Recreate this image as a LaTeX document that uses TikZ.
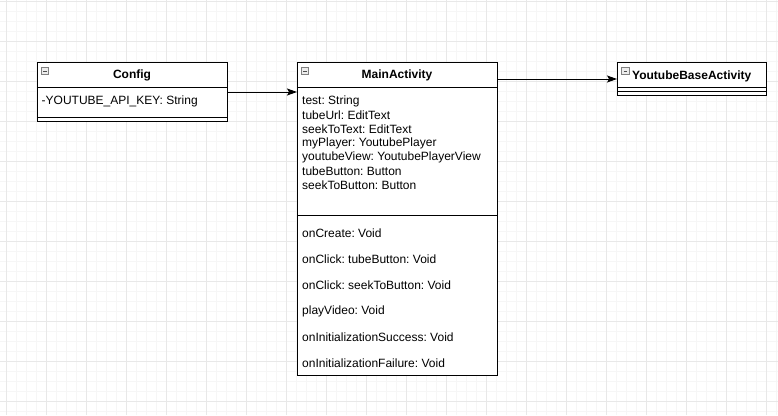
\documentclass[tikz,border=0pt]{standalone}
\usepackage{fontspec}
\setmainfont{Liberation Sans}
\usetikzlibrary{positioning}
\usetikzlibrary{arrows.meta}
\frenchspacing

\definecolor{gridminor}{HTML}{F6F6F6}
\definecolor{gridmajor}{HTML}{E8E8E8}

\tikzset{
  minorline/.style={draw=gridminor, line width=0.7pt},
  majorline/.style={draw=gridmajor, line width=0.7pt},
  classbox/.style={draw, line width=1pt, fill=white, inner sep=0pt, anchor=north west},
  divider/.style={line width=1pt},
  classname/.style={font=\bfseries\fontsize{12}{14}\selectfont, inner sep=0pt},
  member/.style={font=\fontsize{12}{14}\selectfont, inner sep=0pt, anchor=west},
  collapse/.style={draw=gray, fill=gray!15, minimum size=7.5pt, inner sep=0pt, line width=0.6pt,
    path picture={\draw[line width=0.9pt, black!70]
      ([xshift=1.8pt]path picture bounding box.west) -- ([xshift=-1.8pt]path picture bounding box.east);}},
  assoc/.style={-{Stealth[length=10pt,width=7pt,inset=2pt]}, line width=1pt},
}

\begin{document}
\begin{tikzpicture}[x=1pt,y=-1pt]
  \useasboundingbox (0,0) rectangle (778,415);
  % background grid
  \fill[white] (0,0) rectangle (778,415);
  \foreach \x in {6.7,16.7,...,778} \draw[minorline] (\x,0) -- (\x,415);
  \foreach \y in {1.7,11.7,...,415} \draw[minorline] (0,\y) -- (778,\y);
  \foreach \x in {6.7,46.7,...,778} \draw[majorline] (\x,0) -- (\x,415);
  \foreach \y in {1.7,41.7,...,415} \draw[majorline] (0,\y) -- (778,\y);

  % Config
  \node[classbox, minimum width=190pt, minimum height=59pt] (config) at (37,62) {};
  \draw[divider] (37,87) -- (227,87);
  \draw[divider] (37,117) -- (227,117);
  \node[collapse] (configicon) at (45,71) {};
  \node[classname] (configname) at (132,75.5) {Config};
  \node[member] (configkey) at (41.5,101.5) {-YOUTUBE\_API\_KEY: String};

  % MainActivity
  \node[classbox, minimum width=200pt, minimum height=313pt] (main) at (297,62) {};
  \draw[divider] (297,87) -- (497,87);
  \draw[divider] (297,215) -- (497,215);
  \node[collapse] (mainicon) at (305,71) {};
  \node[classname] (mainname) at (397,75.5) {MainActivity};
  \foreach \txt [count=\i from 0] in {test: String, tubeUrl: EditText, seekToText: EditText,
      myPlayer: YoutubePlayer, youtubeView: YoutubePlayerView, tubeButton: Button,
      seekToButton: Button}
    \node[member] (mainattr\i) at (302,101+14*\i) {\txt};
  \foreach \txt [count=\i from 0] in {onCreate: Void, onClick: tubeButton: Void,
      onClick: seekToButton: Void, playVideo: Void, onInitializationSuccess: Void,
      onInitializationFailure: Void}
    \node[member] (mainop\i) at (302,233.5+26*\i) {\txt};

  % YoutubeBaseActivity
  \node[classbox, minimum width=149pt, minimum height=33pt] (ybase) at (617,62) {};
  \draw[divider] (617,87) -- (766,87);
  \draw[divider] (617,91) -- (766,91);
  \node[collapse] (ybaseicon) at (625.5,71) {};
  \node[classname, anchor=west] (ybasename) at (632,76) {YoutubeBaseActivity};

  % associations
  \draw[assoc] (config) -- (config -| main.west);
  \draw[assoc] (main.east |- ybase) -- (ybase);
\end{tikzpicture}
\end{document}
